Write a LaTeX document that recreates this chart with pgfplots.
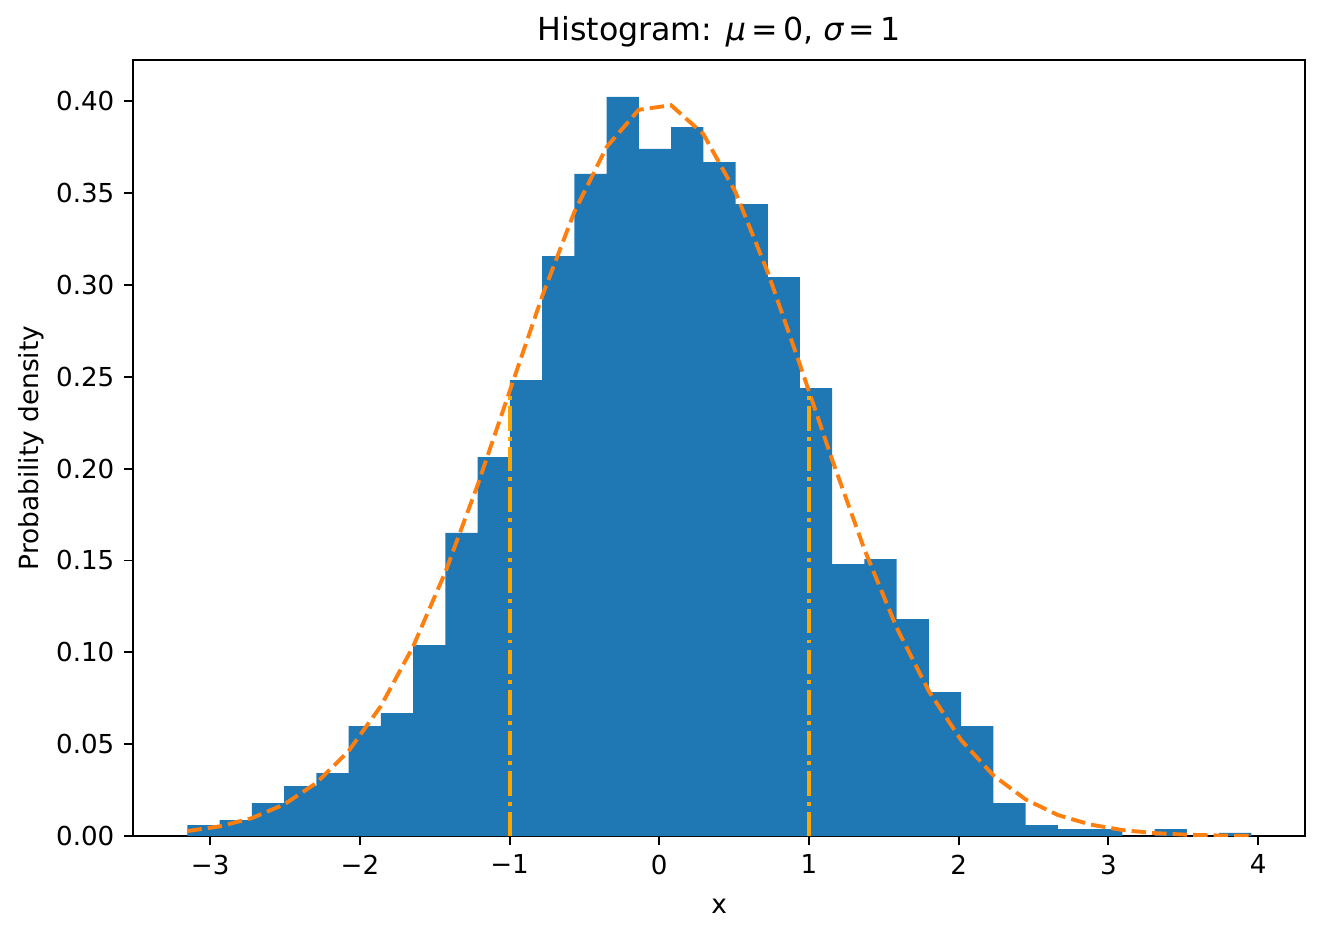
\documentclass[border=0pt]{standalone}
\usepackage{fontspec}
\setmainfont{DejaVu Sans}
\usepackage{pgfplots}
\pgfplotsset{compat=1.18}
\definecolor{mplblue}{HTML}{1F77B4}
\definecolor{mplorange}{HTML}{FF7F0E}
\definecolor{orange2}{HTML}{FFA500}
\begin{document}
\begin{tikzpicture}
\begin{axis}[
  name=ax,
  scale only axis,
  width=421.9pt, height=279.4pt,
  xmin=-3.515, xmax=4.314, ymin=0, ymax=0.4223,
  axis line style={line width=0.7pt},
  tick align=outside,
  major tick length=3.2pt,
  every tick/.style={black, line width=0.7pt},
  xtick={-3,-2,-1,0,1,2,3,4},
  xticklabels={−3,−2,−1,0,1,2,3,4},
  ytick={0,0.05,0.10,0.15,0.20,0.25,0.30,0.35,0.40},
  yticklabels={0.00,0.05,0.10,0.15,0.20,0.25,0.30,0.35,0.40},
  tick label style={font=\fontsize{9.4}{11}\selectfont},
  xtick pos=bottom, ytick pos=left,
  xlabel={x}, ylabel={Probability density},
  label style={font=\fontsize{9.5}{11}\selectfont},
  xlabel style={yshift=-2pt},
  ylabel style={yshift=-2.5pt},
  title={Histogram: {\itshape μ}\,=\,0, {\itshape σ}\,=\,1},
  title style={font=\fontsize{11.4}{13}\selectfont, yshift=-5pt},
  clip=true,
]
\addplot[ybar interval, fill=mplblue, draw=none] coordinates {
(-3.1520,0.0060) (-2.9366,0.0087) (-2.7213,0.0180) (-2.5059,0.0272)
(-2.2906,0.0343) (-2.0752,0.0599) (-1.8598,0.0669) (-1.6445,0.1040)
(-1.4291,0.1650) (-1.2138,0.2063) (-0.9984,0.2482) (-0.7830,0.3156)
(-0.5677,0.3603) (-0.3523,0.4022) (-0.1370,0.3739) (0.0784,0.3858)
(0.2938,0.3668) (0.5091,0.3439) (0.7245,0.3042) (0.9398,0.2438)
(1.1552,0.1480) (1.3706,0.1507) (1.5859,0.1181) (1.8013,0.0784)
(2.0166,0.0599) (2.2320,0.0180) (2.4474,0.0060) (2.6627,0.0038)
(2.8781,0.0038) (3.0934,0.0000) (3.3088,0.0038) (3.5242,0.0000)
(3.7395,0.0018) (3.9549,0.0018)
};
\addplot[mplorange, line width=1.4pt, dash pattern=on 5.2pt off 2.2pt] coordinates {
(-3.1520,0.002776) (-2.9366,0.005350) (-2.7213,0.009840) (-2.5059,0.017273)
(-2.2906,0.028943) (-2.0752,0.046322) (-1.8598,0.070776) (-1.6445,0.10319)
(-1.4291,0.14368) (-1.2138,0.19098) (-0.9984,0.24236) (-0.7830,0.29361)
(-0.5677,0.33957) (-0.3523,0.37494) (-0.1370,0.39522) (0.0784,0.39772)
(0.2938,0.38209) (0.5091,0.35045) (0.7245,0.30684) (0.9398,0.25653)
(1.1552,0.20471) (1.3706,0.15596) (1.5859,0.11344) (1.8013,0.07877)
(2.0166,0.05222) (2.2320,0.03305) (2.4474,0.01996) (2.6627,0.01151)
(2.8781,0.00634) (3.0934,0.003336) (3.3088,0.001673) (3.5242,0.000801)
(3.7395,0.000367) (3.9549,0.000160)
};
\addplot[orange2, line width=1.4pt, dash pattern=on 8.8pt off 2.2pt on 1.4pt off 2.2pt] coordinates {(-1,0) (-1,0.2420)};
\addplot[orange2, line width=1.4pt, dash pattern=on 8.8pt off 2.2pt on 1.4pt off 2.2pt] coordinates {(1,0) (1,0.2420)};
\end{axis}
\pgfresetboundingbox
\path (ax.south west) ++(-47.9pt,-36.7pt) rectangle ++(476.6pt,337.7pt);
\end{tikzpicture}
\end{document}
